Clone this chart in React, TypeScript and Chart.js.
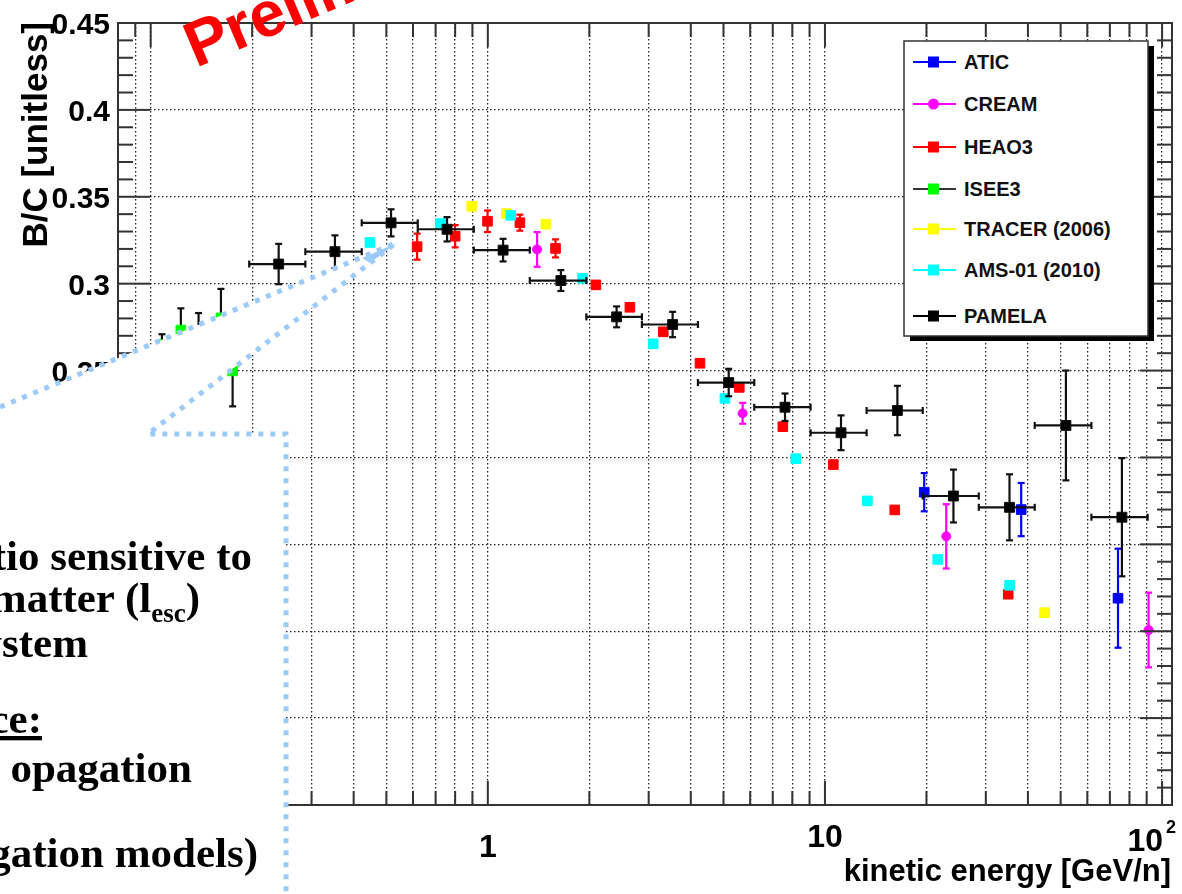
import React, { useEffect, useRef } from 'react';
import { Chart, registerables } from 'chart.js';
Chart.register(...registerables);

// ---------------- data (kinetic energy GeV/n, B/C ratio) ----------------
const atcE = [19.7, 38.2, 74.0];
const atcBC = [0.180, 0.170, 0.119];
const atcErr = [0.011, 0.0153, 0.0285];

const creamE = [1.40, 5.70, 22.9, 91.2];
const creamBC = [0.3197, 0.2254, 0.1546, 0.1007];
const creamErr = [0.010, 0.006, 0.0185, 0.0215];

const heaoE = [0.617, 0.800, 0.998, 1.245, 1.588, 2.092, 2.639, 3.314, 4.259, 5.57, 7.50, 10.59, 16.11, 34.96];
const heaoBC = [0.3213, 0.3273, 0.3359, 0.3351, 0.3203, 0.2993, 0.2864, 0.2723, 0.2542, 0.2403, 0.2177, 0.1959, 0.1698, 0.1213];
const heaoErr = [0.0075, 0.0064, 0.0062, 0.0046, 0.0052, 0.002, 0.002, 0.002, 0.002, 0.002, 0.002, 0.002, 0.002, 0.002];

const iseeE = [0.108, 0.1229, 0.1387, 0.1616, 0.175];
const iseeBC = [0.2649, 0.2733, 0.2717, 0.2803, 0.2498];
const iseeErr = [0.006, 0.0125, 0.0114, 0.0167, 0.0204];

const tracerE = [0.896, 1.136, 1.487, 44.8];
const tracerBC = [0.3445, 0.3403, 0.3342, 0.1107];

const amsE = [0.447, 0.724, 1.170, 1.910, 3.095, 5.05, 8.19, 13.36, 21.6, 35.3];
const amsBC = [0.3237, 0.3346, 0.3393, 0.3031, 0.2654, 0.234, 0.1993, 0.175, 0.1413, 0.1264];

const pamE = [0.2397, 0.352, 0.5164, 0.757, 1.110, 1.647, 2.41, 3.533, 5.182, 7.613, 11.16, 16.40, 24.05, 35.27, 51.85, 76.0];
const pamBC = [0.3113, 0.3184, 0.3350, 0.3313, 0.3193, 0.3018, 0.2809, 0.2765, 0.2431, 0.2289, 0.2142, 0.2270, 0.1778, 0.1713, 0.2184, 0.1656];
const pamErr = [0.0116, 0.0094, 0.0078, 0.007, 0.0065, 0.006, 0.006, 0.0073, 0.0079, 0.0079, 0.010, 0.0142, 0.0152, 0.019, 0.0316, 0.034];
const pamEdges = [0.196, 0.2876, 0.4227, 0.6197, 0.9088, 1.332, 1.960, 2.865, 4.20, 6.17, 9.065, 13.29, 19.5, 28.6, 41.9, 61.7, 90.6];

// axis ticks
const xTickValues = [0.09, 0.1, 0.2, 0.3, 0.4, 0.5, 0.6, 0.7, 0.8, 0.9, 1, 2, 3, 4, 5, 6, 7, 8, 9, 10, 20, 30, 40, 50, 60, 70, 80, 90, 100];
const xMajorValues = [0.1, 1, 10, 100];
const yTickValues = [0, 0.05, 0.1, 0.15, 0.2, 0.25, 0.3, 0.35, 0.4, 0.45];

const legendItems = [
  { label: 'ATIC', color: '#0000ff', line: '#0000ff', shape: 'rect', y: 62 },
  { label: 'CREAM', color: '#ff00ff', line: '#ff00ff', shape: 'circle', y: 104 },
  { label: 'HEAO3', color: '#ff0000', line: '#ff0000', shape: 'rect', y: 147 },
  { label: 'ISEE3', color: '#00ff00', line: '#333333', shape: 'rect', y: 189 },
  { label: 'TRACER (2006)', color: '#ffff00', line: '#ffff00', shape: 'rect', y: 229 },
  { label: 'AMS-01 (2010)', color: '#00ffff', line: '#00ffff', shape: 'rect', y: 270 },
  { label: 'PAMELA', color: '#000000', line: '#000000', shape: 'rect', y: 316 },
];

const pts = (E: number[], BC: number[]) => E.map((x, i) => ({ x, y: BC[i] }));

const rootPlugin = {
  id: 'rootStyle',
  beforeDatasetDraw(chart: any, args: any) {
    const ds = chart.data.datasets[args.index];
    if (!ds.errY && !ds.xLo) return;
    const xs = chart.scales.x, ys = chart.scales.y, ctx = chart.ctx;
    ctx.save();
    ctx.strokeStyle = ds.errColor;
    ctx.lineWidth = 2.2;
    const cap = 3.5;
    const seg = (a: number, b: number, c: number, d: number) => { ctx.beginPath(); ctx.moveTo(a, b); ctx.lineTo(c, d); ctx.stroke(); };
    ds.data.forEach((p: any, i: number) => {
      const px = xs.getPixelForValue(p.x), py = ys.getPixelForValue(p.y);
      if (ds.errY) {
        const y1 = ys.getPixelForValue(p.y + ds.errY[i]);
        const y2 = ys.getPixelForValue(p.y - ds.errY[i]);
        seg(px, y1, px, y2);
        seg(px - cap, y1, px + cap, y1);
        seg(px - cap, y2, px + cap, y2);
      }
      if (ds.xLo) {
        const x1 = xs.getPixelForValue(ds.xLo[i]);
        const x2 = xs.getPixelForValue(ds.xHi[i]);
        seg(x1, py, x2, py);
        seg(x1, py - cap, x1, py + cap);
        seg(x2, py - cap, x2, py + cap);
      }
    });
    ctx.restore();
  },
  afterDraw(chart: any) {
    const { ctx, chartArea: a } = chart;
    const xs = chart.scales.x, ys = chart.scales.y;
    ctx.save();
    ctx.strokeStyle = '#333';
    ctx.lineWidth = 2;
    ctx.strokeRect(a.left, a.top, a.right - a.left, a.bottom - a.top);
    const seg = (p: number, q: number, r: number, s: number) => { ctx.beginPath(); ctx.moveTo(p, q); ctx.lineTo(r, s); ctx.stroke(); };
    // y ticks (inside, both sides)
    for (let k = 1; k < 45; k++) {
      const v = k / 100;
      const y = ys.getPixelForValue(v);
      const len = k % 5 === 0 ? 32 : 15;
      seg(a.left, y, a.left + len, y);
      seg(a.right, y, a.right - len, y);
    }
    // x ticks (inside, both sides)
    xTickValues.forEach((v) => {
      const x = xs.getPixelForValue(v);
      const len = xMajorValues.includes(v) ? 24 : 14;
      seg(x, a.bottom, x, a.bottom - len);
      seg(x, a.top, x, a.top + len);
    });
    // x labels
    ctx.fillStyle = '#000';
    ctx.textBaseline = 'alphabetic';
    ctx.font = 'bold 32px "Liberation Sans"';
    ctx.textAlign = 'center';
    ctx.fillText('1', xs.getPixelForValue(1), 857);
    ctx.fillText('10', xs.getPixelForValue(10), 847);
    const x100 = xs.getPixelForValue(100);
    ctx.textAlign = 'right';
    ctx.fillText('10', x100 + 1, 851);
    ctx.font = 'bold 18px "Liberation Sans"';
    ctx.textAlign = 'left';
    ctx.fillText('2', x100 + 4, 833);
    // axis titles
    ctx.font = 'bold 31px "Liberation Sans"';
    ctx.textAlign = 'right';
    ctx.fillText('kinetic energy [GeV/n]', a.right - 1, 881);
    ctx.translate(37, a.top - 1);
    ctx.rotate(-Math.PI / 2);
    ctx.font = 'bold 35px "Liberation Sans"';
    ctx.textAlign = 'right';
    ctx.textBaseline = 'middle';
    ctx.fillText('B/C [unitless]', 0, 0);
    ctx.restore();
  },
};

export default function App() {
  const ref = useRef<HTMLCanvasElement>(null);
  useEffect(() => {
    document.body.style.margin = '0';
    const canvas = ref.current!;
    const common = { showLine: false, pointBorderWidth: 1 };
    const chart = new Chart(canvas, {
      type: 'scatter',
      data: {
        datasets: [
          { ...common, label: 'PAMELA', data: pts(pamE, pamBC), pointStyle: 'rect', pointRadius: 7, backgroundColor: '#000', borderColor: '#111', errY: pamErr, xLo: pamEdges.slice(0, -1), xHi: pamEdges.slice(1), errColor: '#111', order: 0 } as any,
          { ...common, label: 'AMS-01 (2010)', data: pts(amsE, amsBC), pointStyle: 'rect', pointRadius: 6.8, backgroundColor: '#00ffff', borderColor: '#00ffff', order: 1 } as any,
          { ...common, label: 'TRACER (2006)', data: pts(tracerE, tracerBC), pointStyle: 'rect', pointRadius: 6.8, backgroundColor: '#ffff00', borderColor: '#ffff00', order: 2 } as any,
          { ...common, label: 'ISEE3', data: pts(iseeE, iseeBC), pointStyle: 'rect', pointRadius: 6.8, backgroundColor: '#00ff00', borderColor: '#00ff00', errY: iseeErr, errColor: '#111', order: 3 } as any,
          { ...common, label: 'HEAO3', data: pts(heaoE, heaoBC), pointStyle: 'rect', pointRadius: 6.8, backgroundColor: '#ff0000', borderColor: '#ff0000', errY: heaoErr, errColor: '#ff0000', order: 4 } as any,
          { ...common, label: 'CREAM', data: pts(creamE, creamBC), pointStyle: 'circle', pointRadius: 4.5, backgroundColor: '#ff00ff', borderColor: '#ff00ff', errY: creamErr, errColor: '#ff00ff', order: 5 } as any,
          { ...common, label: 'ATIC', data: pts(atcE, atcBC), pointStyle: 'rect', pointRadius: 6.8, backgroundColor: '#0000ff', borderColor: '#0000ff', errY: atcErr, errColor: '#0000ff', order: 6 } as any,
        ],
      },
      options: {
        animation: false,
        responsive: false,
        devicePixelRatio: 1,
        events: [],
        layout: { padding: { left: 0, top: 18, right: 10, bottom: 0 } },
        plugins: { legend: { display: false }, tooltip: { enabled: false } },
        scales: {
          x: {
            type: 'logarithmic',
            min: 0.08,
            max: 107,
            afterBuildTicks: (s: any) => { s.ticks = xTickValues.map((v) => ({ value: v })); },
            afterFit: (s: any) => { s.height = 89; },
            ticks: { display: false },
            grid: { color: '#222', lineWidth: 1.3, drawTicks: false },
            border: { display: false, dash: [1.5, 2.5] },
          },
          y: {
            min: 0,
            max: 0.45,
            afterBuildTicks: (s: any) => { s.ticks = yTickValues.map((v) => ({ value: v })); },
            afterFit: (s: any) => { s.width = 118; },
            ticks: {
              padding: 8,
              color: '#000',
              labelOffset: 3,
              font: { family: 'Liberation Sans', weight: 'bold', size: 30, lineHeight: 1 },
              callback: (v: any) => String(+Number(v).toFixed(2)),
            },
            grid: { color: '#222', lineWidth: 1.3, drawTicks: false },
            border: { display: false, dash: [1.5, 2.5] },
          },
        },
      } as any,
      plugins: [rootPlugin],
    });
    return () => chart.destroy();
  }, []);

  const blue = '#9ccbfa';
  const serif = { fontFamily: '"Liberation Serif", serif', fontWeight: 700, fontSize: 43 } as any;
  return (
    <div style={{ position: 'relative', width: 1182, height: 894, overflow: 'hidden', background: '#fff' }}>
      <canvas ref={ref} width={1182} height={894} style={{ position: 'absolute', left: 0, top: 0, width: 1182, height: 894 }} />
      <svg width={1182} height={894} style={{ position: 'absolute', left: 0, top: 0, pointerEvents: 'none' }}>
        {/* callout */}
        <polygon points="0,407 396,243 148,434 286,434 286,900 0,900" fill="#fff" />
        <polyline points="0,407 396,243 148,434 286,434 286,900" fill="none" stroke={blue} strokeWidth={5} strokeDasharray="5 7" />
        <polygon points="397,243 362,258 370,263" fill={blue} />
        <g style={serif} fill="#000">
          <text x={252} y={570} textAnchor="end">tio sensitive to</text>
          <text x={200} y={612} textAnchor="end">matter (l<tspan fontSize={27} dy={10}>esc</tspan><tspan dy={-10}>)</tspan></text>
          <text x={88} y={657} textAnchor="end">ystem</text>
          <text x={42} y={733} textAnchor="end" textDecoration="underline">ce:</text>
          <text x={192} y={782} textAnchor="end">opagation</text>
          <text x={258} y={867} textAnchor="end">gation models)</text>
        </g>
        {/* Preliminary stamp */}
        <text x={0} y={0} transform="translate(196,68) rotate(-23)" fill="#ff0000" style={{ fontFamily: '"Liberation Sans", Arial, sans-serif', fontWeight: 700, fontSize: 64 }}>Preliminary</text>
        {/* legend */}
        <rect x={910} y={46} width={244} height={295} fill="#000" />
        <rect x={904} y={41} width={244} height={295} fill="#fff" stroke="#333" strokeWidth={1.5} />
        {legendItems.map((it) => (
          <g key={it.label}>
            <line x1={913} x2={956} y1={it.y} y2={it.y} stroke={it.line} strokeWidth={2} />
            {it.shape === 'rect'
              ? <rect x={933.5 - 5.5} y={it.y - 5.5} width={11} height={11} fill={it.color} />
              : <circle cx={933.5} cy={it.y} r={5.5} fill={it.color} />}
            <text x={964} y={it.y} dominantBaseline="central" fill="#111" style={{ fontFamily: '"Liberation Sans", Arial, sans-serif', fontWeight: 700, fontSize: 20 }}>{it.label}</text>
          </g>
        ))}
      </svg>
    </div>
  );
}
